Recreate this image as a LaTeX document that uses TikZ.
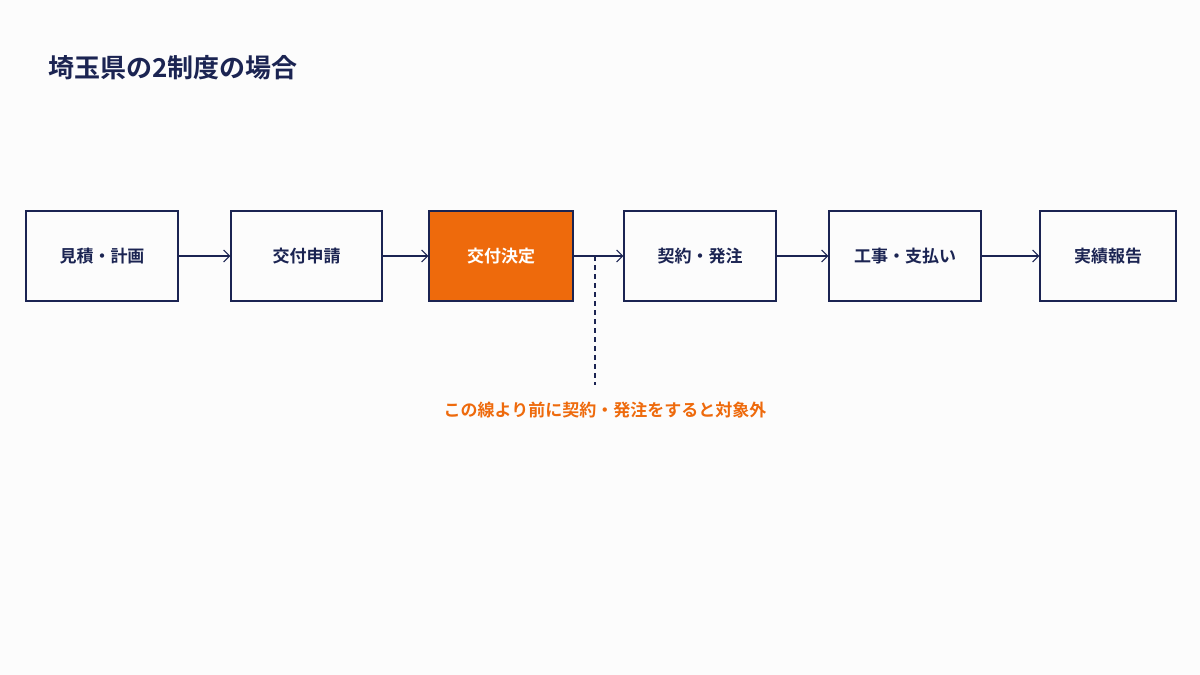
\documentclass[tikz,border=0pt]{standalone}
\usepackage{fontspec}
\setmainfont{Noto Sans CJK JP}[BoldFont={* Bold}]
\definecolor{navy}{HTML}{1B2452}
\definecolor{org}{HTML}{EE6A0C}
\begin{document}
\begin{tikzpicture}[x=1pt,y=-1pt,
 box/.style={draw=navy,line width=1.3pt,minimum height=90pt,text=navy,font=\fontsize{17}{20}\selectfont\bfseries,inner sep=0pt},
 arr/.style={->,draw=navy,line width=1.1pt,>={Straight Barb[length=6pt]}}]
\usetikzlibrary{arrows.meta}
\fill[white!98!gray] (0,0) rectangle (1200,675);
\useasboundingbox (0,0) rectangle (1200,675);
\node[anchor=west,text=navy,font=\fontsize{26}{30}\selectfont\bfseries] (t) at (45,68) {埼玉県の2制度の場合};
\node[box,minimum width=152pt] (a) at (102,256) {見積・計画};
\node[box,minimum width=151pt] (b) at (306.5,256) {交付申請};
\node[box,minimum width=144pt,fill=org,text=white] (c) at (501,256) {交付決定};
\node[box,minimum width=152pt] (d) at (700,256) {契約・発注};
\node[box,minimum width=152pt] (e) at (905,256) {工事・支払い};
\node[box,minimum width=136pt] (f) at (1108,256) {実績報告};
\draw[arr] (a) -- (b);
\draw[arr] (b) -- (c);
\draw[arr] (c) -- (d);
\draw[arr] (d) -- (e);
\draw[arr] (e) -- (f);
\coordinate (p) at (595,256);
\coordinate (q) at (595,385);
\draw[navy,line width=1.1pt,dash pattern=on 5pt off 4pt] (p) -- (q);
\node[text=org,font=\fontsize{17}{20}\selectfont\bfseries] (n) at (605,410) {この線より前に契約・発注をすると対象外};
\end{tikzpicture}
\end{document}
